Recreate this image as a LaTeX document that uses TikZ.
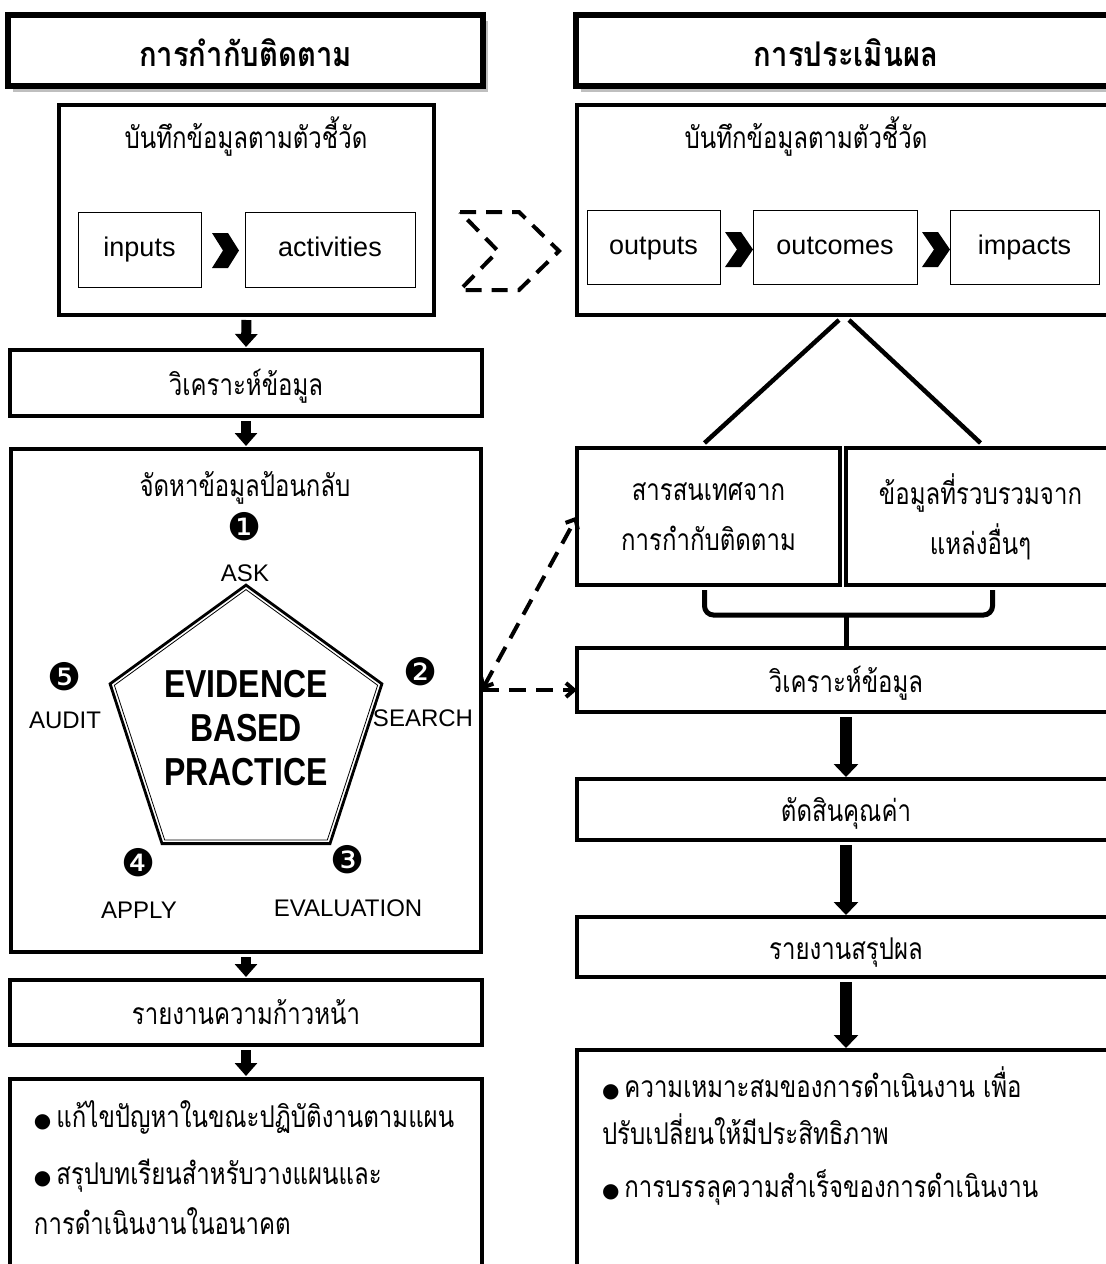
\documentclass[tikz,border=0pt]{standalone}
\usepackage{fontspec}
\setmainfont{Liberation Sans}
\newfontfamily\thai[Script=Thai, FakeStretch=0.8]{Loma}
\newfontfamily\thaib[Script=Thai, FakeStretch=0.86]{Loma}
\newfontfamily\ebpfont[FakeStretch=0.82]{Liberation Sans}
\newfontfamily\dings{DejaVu Sans}
\usetikzlibrary{arrows.meta,calc,shadows,shapes.geometric}

\newcommand{\thtext}{\thai\fontsize{30}{50}\selectfont}
\newcommand{\thhead}{\thaib\bfseries\fontsize{34}{36}\selectfont}
\newcommand{\bul}{{\dings\fontsize{20}{20}\selectfont ●}\,}

\tikzset{
    header/.style={draw, line width=6pt, fill=white, font=\thhead, text height=32pt, text depth=0pt,
        drop shadow={shadow xshift=5pt, shadow yshift=-6pt, fill=gray!50, opacity=1}},
    recbox/.style={draw, line width=3.5pt},
    stepbox/.style={draw, line width=3.5pt, font=\thtext, align=center},
    steptext/.style={text height=24pt, text depth=0pt},
    thlabel/.style={font=\thtext, text height=14.4pt, text depth=0pt},
    smallbox/.style={draw, line width=1pt, font=\fontsize{27}{30}\selectfont,
        text height=20pt, text depth=6pt},
    downarrow/.style={line width=10pt, -{Triangle[width=22pt,length=13pt]},
        shorten <=5pt, shorten >=3pt},
    bigarrow/.style={line width=12pt, -{Triangle[width=24pt,length=13pt]},
        shorten <=5pt, shorten >=2pt},
    dashline/.style={line width=4pt, dash pattern=on 17pt off 10pt},
    barb/.tip={Straight Barb[length=8pt,width=14pt]},
    ebplabel/.style={font=\fontsize{24}{26}\selectfont},
    ebpnum/.style={font=\dings\fontsize{38}{40}\selectfont},
    listline/.style={anchor=west, thlabel}
}

\begin{document}
\begin{tikzpicture}[x=1pt, y=-1pt, every node/.style={inner sep=0pt, outer sep=0pt}]
    \useasboundingbox (0,0) rectangle (1106,1264);

    % headers
    \node[header, minimum width=475pt, minimum height=71pt] (hdrL) at (245.5,50.5) {การกำกับติดตาม};
    \node[header, minimum width=540pt, minimum height=71pt] (hdrR) at (846,50.5) {การประเมินผล};

    % indicator boxes
    \node[recbox, minimum width=375pt, minimum height=210pt] (recL) at (246.5,210) {};
    \node[thlabel] (recLt) at (246,141) {บันทึกข้อมูลตามตัวชี้วัด};
    \node[smallbox, minimum width=123pt, minimum height=75pt] (inputs) at (139.5,249.5) {inputs};
    \node[smallbox, minimum width=170pt, minimum height=75pt] (activities) at (330,249.5) {activities};
    \fill (212,233) -- (228,233) -- (239,250.5) -- (228,268) -- (212,268) -- (223,250.5) -- cycle;

    \node[recbox, minimum width=538pt, minimum height=210pt] (recR) at (846,210) {};
    \node[thlabel] (recRt) at (806,141) {บันทึกข้อมูลตามตัวชี้วัด};
    \node[smallbox, minimum width=133pt, minimum height=74pt] (outputs) at (653.5,247) {outputs};
    \node[smallbox, minimum width=164pt, minimum height=74pt] (outcomes) at (835,247) {outcomes};
    \node[smallbox, minimum width=149pt, minimum height=74pt] (impacts) at (1024.5,247) {impacts};
    \fill (725,232) -- (741,232) -- (753,249.5) -- (741,267) -- (725,267) -- (737,249.5) -- cycle;
    \fill (922,232) -- (938,232) -- (950,249.5) -- (938,267) -- (922,267) -- (934,249.5) -- cycle;

    % dashed chevron between the columns
    \draw[line width=4pt, dash pattern=on 16pt off 10pt] (460,212) -- (519,212) -- (559,251)
        -- (519,290) -- (460,290) -- (498,251) -- cycle;

    % left column
    \node[stepbox, steptext, minimum width=472pt, minimum height=66pt] (anaL) at (246,383) {วิเคราะห์ข้อมูล};
    \node[stepbox, minimum width=470pt, minimum height=503pt] (fbL) at (246,700.5) {};
    \node[stepbox, steptext, minimum width=472pt, minimum height=65pt] (repL) at (246,1012.5) {รายงานความก้าวหน้า};
    \node[stepbox, minimum width=472pt, minimum height=202pt] (outL) at (246,1180) {};

    \draw[downarrow] (recL.south) -- (anaL.north);
    \draw[downarrow] (anaL.south) -- (fbL.north);
    \draw[downarrow] (fbL.south) -- (repL.north);
    \draw[downarrow] (repL.south) -- (outL.north);

    % evidence based practice
    \node[thlabel] (fbt) at (245,489) {จัดหาข้อมูลป้อนกลับ};
    \node[regular polygon, regular polygon sides=5, minimum size=280pt, draw, line width=2.8pt,
        font=\ebpfont\bfseries\fontsize{39}{44}\selectfont, align=center] (ebp) at (246,728)
        {EVIDENCE\\BASED\\PRACTICE};
    \draw[line width=0.8pt] ($(ebp.corner 1)!4.5pt!(ebp.center)$)
        \foreach \i in {2,...,5}{ -- ($(ebp.corner \i)!4.5pt!(ebp.center)$)} -- cycle;
    \node[ebpnum] (n1) at (245,527) {❶};
    \node[ebplabel] (ask) at (245,573) {ASK};
    \node[ebpnum] (n2) at (421,672) {❷};
    \node[ebplabel] (search) at (423,718) {SEARCH};
    \node[ebpnum] (n3) at (348,860) {❸};
    \node[ebplabel] (evaluation) at (348,908) {EVALUATION};
    \node[ebpnum] (n4) at (139,863) {❹};
    \node[ebplabel] (apply) at (139,910) {APPLY};
    \node[ebpnum] (n5) at (65,677) {❺};
    \node[ebplabel] (audit) at (65,720) {AUDIT};

    \node[listline] (outL1) at (34,1120) {\bul แก้ไขปัญหาในขณะปฏิบัติงานตามแผน};
    \node[listline] (outL2) at (34,1177) {\bul สรุปบทเรียนสำหรับวางแผนและ};
    \node[listline] (outL3) at (34,1227) {การดำเนินงานในอนาคต};

    % right column
    \node[stepbox, minimum width=263pt, minimum height=137pt] (infoR) at (708.5,516.5) {สารสนเทศจาก\\การกำกับติดตาม};
    \node[stepbox, minimum width=269pt, minimum height=137pt] (otherR) at (980.5,516.5) {ข้อมูลที่รวบรวมจาก\\แหล่งอื่นๆ};
    \node[stepbox, steptext, minimum width=538pt, minimum height=64pt] (anaR) at (846,680) {วิเคราะห์ข้อมูล};
    \node[stepbox, steptext, minimum width=538pt, minimum height=61pt] (judgeR) at (846,809.5) {ตัดสินคุณค่า};
    \node[stepbox, steptext, minimum width=538pt, minimum height=60pt] (sumR) at (846,947) {รายงานสรุปผล};
    \node[stepbox, minimum width=538pt, minimum height=232pt] (outR) at (846,1166) {};

    \draw[line width=4.5pt] ($(recR.south)+(-7,5)$) -- ($(infoR.north)+(-4,-5)$);
    \draw[line width=4.5pt] ($(recR.south)+(3,5)$) -- ($(otherR.north)+(0,-5)$);
    \draw[line width=5pt, rounded corners=9pt] ($(infoR.south)+(-4,5)$) |- ($(anaR.north)+(0,-33)$) -| ($(otherR.south)+(12,5)$);
    \draw[line width=5pt] ($(anaR.north)+(0,-35)$) -- (anaR.north);

    \draw[bigarrow] (anaR.south) -- (judgeR.north);
    \draw[bigarrow] (judgeR.south) -- (sumR.north);
    \draw[bigarrow] (sumR.south) -- (outR.north);

    \coordinate (fork) at (482,690);
    \draw[dashline, barb-barb] (fork) -- (infoR.west);
    \draw[dashline, -barb] (fork) -- (fork -| anaR.west);

    \node[listline] (outR1) at (602,1090) {\bul ความเหมาะสมของการดำเนินงาน เพื่อ};
    \node[listline] (outR2) at (602,1137) {ปรับเปลี่ยนให้มีประสิทธิภาพ};
    \node[listline] (outR3) at (602,1190) {\bul การบรรลุความสำเร็จของการดำเนินงาน};
\end{tikzpicture}
\end{document}
